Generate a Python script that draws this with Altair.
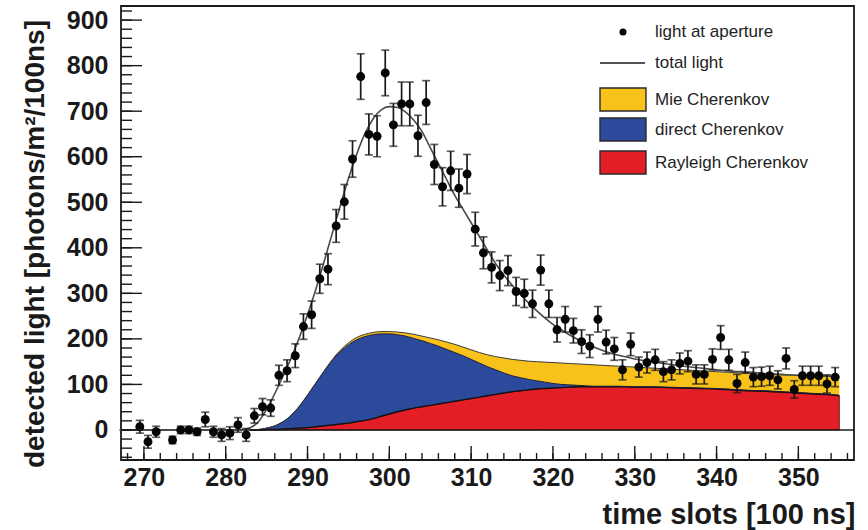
import altair as alt
import pandas as pd
import numpy as np

# Measured light at the aperture: bin centre [100 ns], value, error
slot = [269.5, 270.5, 271.5, 273.5, 274.5, 275.5, 276.5, 277.5, 278.5, 279.5,
        280.5, 281.5, 282.5, 283.5, 284.5, 285.5, 286.5, 287.5, 288.5, 289.5,
        290.5, 291.5, 292.5, 293.5, 294.5, 295.5, 296.5, 297.5, 298.5, 299.5,
        300.5, 301.5, 302.5, 303.5, 304.5, 305.5, 306.5, 307.5, 308.5, 309.5,
        310.5, 311.5, 312.5, 313.5, 314.5, 315.5, 316.5, 317.5, 318.5, 319.5,
        320.5, 321.5, 322.5, 323.5, 324.5, 325.5, 326.5, 327.5, 328.5, 329.5,
        330.5, 331.5, 332.5, 333.5, 334.5, 335.5, 336.5, 337.5, 338.5, 339.5,
        340.5, 341.5, 342.5, 343.5, 344.5, 345.5, 346.5, 347.5, 348.5, 349.5,
        350.5, 351.5, 352.5, 353.5, 354.5]
light = [7, -26, -4, -22, 0, 0, -4, 23, -4, -11,
         -7, 11, -11, 31, 51, 48, 120, 130, 163, 227,
         253, 332, 353, 448, 501, 595, 776, 649, 645, 784,
         670, 716, 716, 646, 719, 583, 534, 569, 531, 562,
         441, 389, 357, 339, 350, 304, 300, 277, 351, 277,
         220, 243, 218, 194, 184, 243, 193, 178, 132, 188,
         138, 148, 154, 128, 132, 146, 151, 122, 122, 155,
         203, 154, 102, 148, 116, 117, 119, 110, 157, 89,
         119, 119, 119, 101, 116]
light_err = [14, 14, 12, 8, 8, 8, 8, 16, 12, 14,
             14, 16, 14, 16, 18, 18, 22, 24, 26, 28,
             30, 32, 34, 36, 38, 40, 50, 45, 45, 50,
             47, 48, 48, 45, 48, 44, 42, 43, 42, 43,
             37, 35, 34, 33, 33, 31, 31, 30, 33, 30,
             27, 28, 27, 26, 25, 28, 26, 25, 22, 25,
             22, 23, 23, 22, 22, 23, 23, 21, 21, 23,
             26, 23, 20, 23, 21, 21, 21, 20, 23, 19,
             21, 21, 21, 20, 21]

# Fitted total light
curve_t = [267, 270, 275, 280, 282, 283, 284, 285, 286, 287, 288, 289, 290,
           291, 292, 293, 294, 295, 296, 297, 298, 299, 300, 301, 302, 303,
           304, 305, 306, 307, 308, 309, 310, 311, 312, 313, 314, 315, 316,
           317, 318, 319, 320, 321, 322, 323, 324, 325, 326, 327, 328, 329,
           330, 332, 334, 336, 338, 340, 342, 344, 346, 348, 350, 352, 354, 355]
curve_v = [0, 0, 0, 0, 1, 5, 18, 45, 80, 118, 158, 203, 253,
           308, 368, 430, 492, 552, 605, 650, 683, 703, 710, 708, 698, 680,
           655, 620, 585, 550, 515, 485, 455, 425, 395, 365, 340, 318, 298,
           279, 262, 246, 232, 220, 209, 199, 190, 182, 175, 169, 164, 160,
           156, 150, 145, 140, 136, 132, 129, 127, 124, 122, 120, 119, 118, 117]

# Cherenkov contributions, stacked from the bottom
comp_t = [283, 284, 285, 286, 287, 288, 289, 290, 291, 292, 293, 294, 295,
          296, 297, 298, 299, 300, 301, 302, 303, 304, 305, 306, 307, 308,
          309, 310, 311, 312, 313, 314, 315, 316, 317, 318, 319, 320, 321,
          322, 323, 324, 325, 326, 327, 328, 330, 332, 334, 336, 338, 340,
          342, 344, 346, 348, 350, 352, 354, 355]
rayleigh = [0, 0, 1, 1, 2, 3, 4, 5, 7, 9, 11, 13, 15,
            18, 21, 25, 30, 35, 40, 44, 48, 51, 54, 57, 60, 63,
            66, 69, 72, 75, 78, 81, 84, 86, 88, 90, 91, 92, 93,
            94, 95, 95, 95, 95, 95, 95, 94, 94, 93, 92, 91, 90,
            88, 86, 85, 83, 81, 79, 77, 75]
direct = [0, 1, 3, 8, 16, 29, 48, 71, 95, 119, 141, 159, 172,
          180, 184, 184, 181, 176, 169, 162, 153, 145, 136, 127, 117, 107,
          97, 86, 75, 64, 54, 44, 35, 29, 23, 18, 14, 10, 7,
          5, 3, 2, 1, 1, 1, 1, 1, 1, 1, 1, 1, 1,
          1, 1, 1, 1, 1, 1, 1, 1]
mie = [0, 0, 0, 0, 0, 0, 0, 1, 1, 1, 2, 3, 4,
       5, 5, 5, 5, 5, 6, 7, 9, 10, 12, 14, 16, 18,
       19, 21, 23, 26, 29, 33, 36, 38, 40, 42, 44, 46, 47,
       47, 47, 47, 47, 46, 45, 44, 43, 41, 40, 39, 38, 37,
       37, 37, 36, 37, 38, 39, 40, 41]

X_DOMAIN = [267.2, 356.8]
Y_DOMAIN = [-66, 931]
W, H = 733, 454

YELLOW = "#F8C21B"
BLUE = "#2C4A9C"
RED = "#E31E26"
INK = "#1A1A1A"
FONT = "Liberation Sans"

xs = alt.Scale(domain=X_DOMAIN, nice=False, zero=False)
ys = alt.Scale(domain=Y_DOMAIN, nice=False, zero=False)

pts = pd.DataFrame({"t": slot, "v": light, "e": light_err})
pts["lo"] = pts["v"] - pts["e"]
pts["hi"] = pts["v"] + pts["e"]

fit = pd.DataFrame({"t": curve_t, "v": curve_v})

comp = pd.DataFrame({"t": comp_t, "r": rayleigh, "d": direct, "m": mie})
comp["zero"] = 0
comp["rd"] = comp["r"] + comp["d"]
comp["rdm"] = comp["rd"] + comp["m"]

X = alt.X("t:Q", scale=xs, title="time slots [100 ns]",
          axis=alt.Axis(values=list(range(270, 360, 10)), ticks=False, domain=False,
                        grid=False, labelFontSize=25, labelFontWeight="bold",
                        labelFont=FONT, labelColor=INK, labelPadding=5,
                        titleFontSize=29, titleFontWeight="bold", titleFont=FONT,
                        titleColor=INK, titleAnchor="end", titleAlign="right",
                        titleX=W + 1, titleY=63, titleBaseline="alphabetic"))
Y = alt.Y("v:Q", scale=ys, title=None,
          axis=alt.Axis(values=list(range(0, 1000, 100)), ticks=False, domain=False,
                        grid=False, labelFontSize=25, labelFontWeight="bold",
                        labelFont=FONT, labelColor=INK, labelPadding=13))

base_comp = alt.Chart(comp)

red_area = base_comp.mark_area(interpolate="monotone", color=RED, stroke="#7a1010",
                               strokeWidth=1).encode(
    x=X, y=alt.Y("zero:Q", scale=ys), y2="r:Q")
blue_area = base_comp.mark_area(interpolate="monotone", color=BLUE).encode(
    x=alt.X("t:Q", scale=xs), y=alt.Y("r:Q", scale=ys), y2="rd:Q")
yellow_area = base_comp.mark_area(interpolate="monotone", color=YELLOW).encode(
    x=alt.X("t:Q", scale=xs), y=alt.Y("rd:Q", scale=ys), y2="rdm:Q")

red_top = base_comp.mark_line(interpolate="monotone", color="#111", strokeWidth=1.4).encode(
    x=alt.X("t:Q", scale=xs), y=alt.Y("r:Q", scale=ys))
blue_top = base_comp.mark_line(interpolate="monotone", color="#1b1b3a", strokeWidth=1).encode(
    x=alt.X("t:Q", scale=xs), y=alt.Y("rd:Q", scale=ys))
yellow_top = base_comp.mark_line(interpolate="monotone", color="#3a3a3a", strokeWidth=1).encode(
    x=alt.X("t:Q", scale=xs), y=alt.Y("rdm:Q", scale=ys))

zero_line = alt.Chart(pd.DataFrame({"v": [0]})).mark_rule(color=INK, strokeWidth=1.5).encode(
    x=alt.value(0), x2=alt.value(W), y=alt.Y("v:Q", scale=ys))

fit_line = alt.Chart(fit).mark_line(interpolate="monotone", color="#4a4a4a",
                                    strokeWidth=1.6).encode(
    x=alt.X("t:Q", scale=xs), y=alt.Y("v:Q", scale=ys))

bars = alt.Chart(pts).mark_rule(color=INK, strokeWidth=1.7).encode(
    x=alt.X("t:Q", scale=xs), y=alt.Y("lo:Q", scale=ys), y2="hi:Q")
caps_lo = alt.Chart(pts).mark_tick(color=INK, orient="horizontal", size=8,
                                   thickness=1.7).encode(
    x=alt.X("t:Q", scale=xs), y=alt.Y("lo:Q", scale=ys))
caps_hi = alt.Chart(pts).mark_tick(color=INK, orient="horizontal", size=8,
                                   thickness=1.7).encode(
    x=alt.X("t:Q", scale=xs), y=alt.Y("hi:Q", scale=ys))
dots = alt.Chart(pts).mark_point(shape="circle", filled=True, color="#050505",
                                 size=80, opacity=1).encode(
    x=alt.X("t:Q", scale=xs), y=alt.Y("v:Q", scale=ys))

# Inward tick marks on the bottom and left frame edges
x_major = pd.DataFrame({"t": np.arange(270, 351, 10)})
x_minor = pd.DataFrame({"t": np.arange(268, 357, 2)})
y_major = pd.DataFrame({"v": np.arange(0, 901, 100)})
y_minor = pd.DataFrame({"v": np.arange(-60, 921, 20)})

xt_major = alt.Chart(x_major).mark_rule(color=INK, strokeWidth=1.4).encode(
    x=alt.X("t:Q", scale=xs), y=alt.value(H), y2=alt.value(H - 14))
xt_minor = alt.Chart(x_minor).mark_rule(color=INK, strokeWidth=1.4).encode(
    x=alt.X("t:Q", scale=xs), y=alt.value(H), y2=alt.value(H - 7))
yt_major = alt.Chart(y_major).mark_rule(color=INK, strokeWidth=1.4).encode(
    y=alt.Y("v:Q", scale=ys), x=alt.value(0), x2=alt.value(21))
yt_minor = alt.Chart(y_minor).mark_rule(color=INK, strokeWidth=1.4).encode(
    y=alt.Y("v:Q", scale=ys), x=alt.value(0), x2=alt.value(11))

one = pd.DataFrame({"k": [0]})

# Vertical axis title
y_title = alt.Chart(pd.DataFrame({"s": ["detected light [photons/m²/100ns]"]})).mark_text(
    font=FONT, fontSize=28, fontWeight="bold", color=INK, angle=270,
    align="center", baseline="middle").encode(
    x=alt.value(-85), y=alt.value(238), text="s:N")

# Legend
LX = 479
LTX = 534
leg_font = dict(font=FONT, fontSize=17, color="#222", align="left", baseline="middle")

leg_dot = alt.Chart(one).mark_point(shape="circle", filled=True, color="#050505",
                                    size=50, opacity=1).encode(
    x=alt.value(502), y=alt.value(26))
leg_line = alt.Chart(one).mark_rule(color=INK, strokeWidth=1.4).encode(
    x=alt.value(LX), x2=alt.value(LX + 45), y=alt.value(57))


def leg_box(color, y0):
    return alt.Chart(one).mark_rect(fill=color, stroke="#2a2a2a", strokeWidth=1.4).encode(
        x=alt.value(LX), x2=alt.value(LX + 46), y=alt.value(y0), y2=alt.value(y0 + 23))


def leg_text(label, y):
    return alt.Chart(pd.DataFrame({"s": [label]})).mark_text(**leg_font).encode(
        x=alt.value(LTX), y=alt.value(y), text="s:N")


legend = alt.layer(
    leg_dot, leg_line,
    leg_box(YELLOW, 82), leg_box(BLUE, 112), leg_box(RED, 145),
    leg_text("light at aperture", 26), leg_text("total light", 57),
    leg_text("Mie Cherenkov", 94), leg_text("direct Cherenkov", 124),
    leg_text("Rayleigh Cherenkov", 157),
)

chart = alt.layer(
    red_area, blue_area, yellow_area, red_top, blue_top, yellow_top,
    zero_line, fit_line, bars, caps_lo, caps_hi, dots,
    xt_major, xt_minor, yt_major, yt_minor, y_title, legend,
).encode(y=Y).properties(
    width=W, height=H,
    autosize=alt.AutoSizeParams(type="none"),
    padding={"left": 121, "top": 6, "right": 14, "bottom": 70},
    background="white",
).configure_view(stroke="#1a1a1a", strokeWidth=1.8)

chart.save("out.html", embed_options={"renderer": "svg", "actions": False})
